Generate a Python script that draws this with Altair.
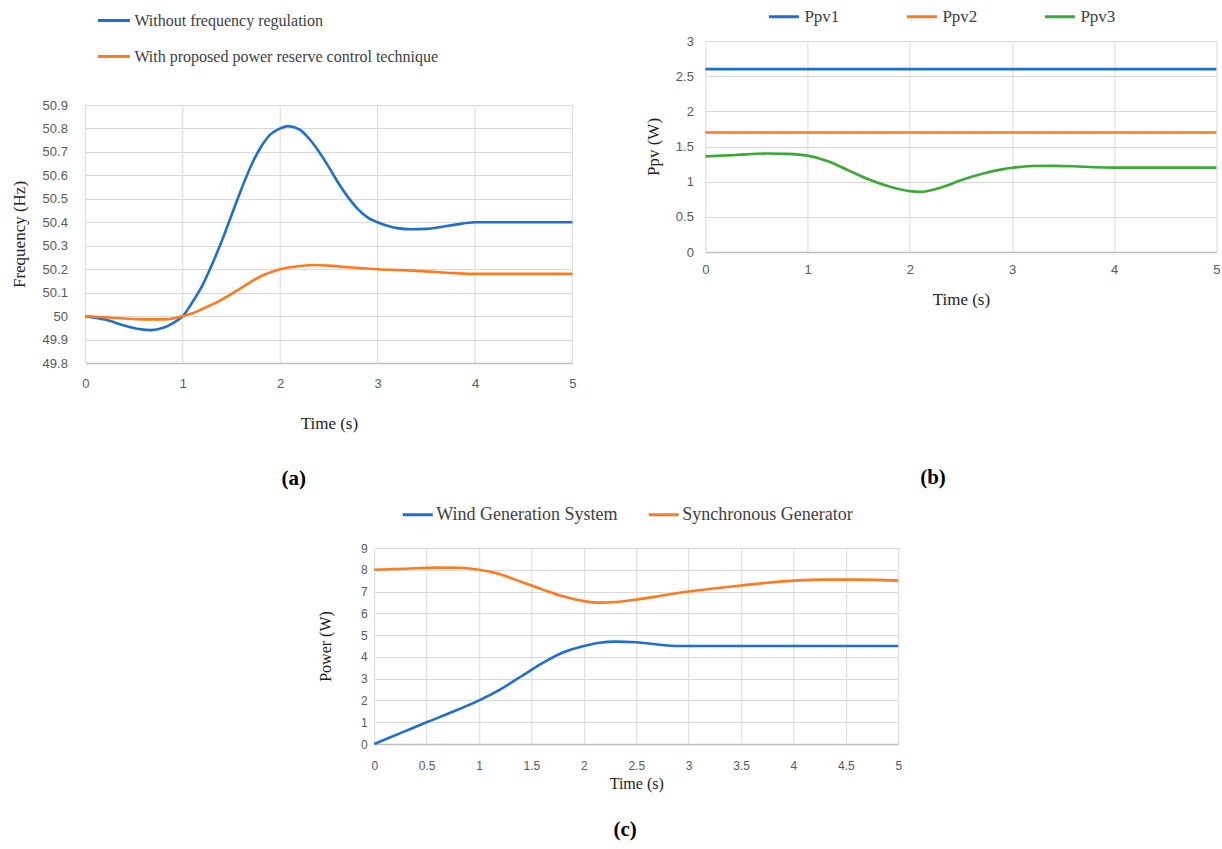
import altair as alt
import pandas as pd

# ---------------- Panel (a): frequency ----------------
a_series = ["Without frequency regulation", "With proposed power reserve control technique"]
a_colors = ["#1E6FCF", "#FF7A1F"]
a_t_without = [0, 0.2, 0.4, 0.55, 0.67, 0.8, 0.9, 1.0, 1.1, 1.2, 1.3, 1.4, 1.5, 1.6, 1.7,
               1.8, 1.9, 2.0, 2.08, 2.2, 2.3, 2.4, 2.5, 2.6, 2.7, 2.8, 2.9, 3.0, 3.1, 3.2,
               3.35, 3.5, 3.65, 3.8, 4.0, 4.5, 5.0]
a_f_without = [50.0, 49.985, 49.96, 49.945, 49.94, 49.95, 49.97, 50.0, 50.06, 50.13, 50.22,
               50.32, 50.43, 50.54, 50.64, 50.72, 50.775, 50.80, 50.81, 50.795, 50.755, 50.70,
               50.635, 50.565, 50.505, 50.455, 50.42, 50.40, 50.385, 50.375, 50.37, 50.372, 50.38,
               50.39, 50.40, 50.40, 50.40]
a_t_with = [0, 0.2, 0.4, 0.6, 0.8, 0.9, 1.0, 1.1, 1.2, 1.4, 1.6, 1.8, 2.0, 2.2, 2.35, 2.5,
            2.7, 3.0, 3.3, 3.6, 3.8, 4.0, 4.5, 5.0]
a_f_with = [50.0, 49.995, 49.99, 49.986, 49.986, 49.99, 50.0, 50.012, 50.03, 50.07, 50.12,
            50.17, 50.20, 50.213, 50.218, 50.215, 50.208, 50.20, 50.195, 50.188, 50.183,
            50.18, 50.18, 50.18]
a_xticks = [0, 1, 2, 3, 4, 5]
a_yticks = [49.8, 49.9, 50.0, 50.1, 50.2, 50.3, 50.4, 50.5, 50.6, 50.7, 50.8, 50.9]

# ---------------- Panel (b): PV power ----------------
b_series = ["Ppv1", "Ppv2", "Ppv3"]
b_colors = ["#1E6FCF", "#FF7A1F", "#3AAA35"]
b_t_flat = [0, 5]
b_ppv1 = [2.6, 2.6]
b_ppv2 = [1.7, 1.7]
b_t3 = [0, 0.3, 0.6, 0.8, 1.0, 1.2, 1.4, 1.6, 1.8, 2.0, 2.1, 2.3, 2.5, 2.7, 2.9, 3.0, 3.2,
        3.4, 3.6, 3.8, 4.0, 4.5, 5.0]
b_ppv3 = [1.36, 1.38, 1.40, 1.395, 1.37, 1.29, 1.16, 1.03, 0.93, 0.865, 0.855, 0.915, 1.02,
          1.11, 1.175, 1.197, 1.222, 1.225, 1.22, 1.205, 1.20, 1.20, 1.20]
b_xticks = [0, 1, 2, 3, 4, 5]
b_yticks = [0, 0.5, 1, 1.5, 2, 2.5, 3]

# ---------------- Panel (c): power sharing ----------------
c_series = ["Wind Generation System", "Synchronous Generator"]
c_colors = ["#1E6FCF", "#FF7A1F"]
c_t_wind = [0, 0.25, 0.5, 0.75, 1.0, 1.2, 1.4, 1.6, 1.8, 2.0, 2.15, 2.3, 2.5, 2.7, 2.9, 3.0,
            4.0, 5.0]
c_p_wind = [0, 0.5, 1.0, 1.48, 2.0, 2.5, 3.1, 3.7, 4.2, 4.5, 4.65, 4.7, 4.67, 4.57, 4.5, 4.5,
            4.5, 4.5]
c_t_sync = [0, 0.3, 0.6, 0.8, 1.0, 1.2, 1.4, 1.6, 1.8, 2.0, 2.15, 2.3, 2.5, 2.75, 3.0, 3.5,
            4.0, 4.3, 4.6, 5.0]
c_p_sync = [8.0, 8.05, 8.1, 8.09, 8.0, 7.8, 7.45, 7.1, 6.78, 6.56, 6.49, 6.52, 6.63, 6.82,
            7.0, 7.28, 7.5, 7.55, 7.55, 7.5]
c_xticks = [0, 0.5, 1, 1.5, 2, 2.5, 3, 3.5, 4, 4.5, 5]
c_yticks = [0, 1, 2, 3, 4, 5, 6, 7, 8, 9]

SERIF = "Liberation Serif"
SANS = "Liberation Sans"
GRID = "#D9D9D9"


def frame(pairs):
    rows = []
    for name, ts, vs in pairs:
        for t, v in zip(ts, vs):
            rows.append({"series": name, "t": t, "v": v})
    return pd.DataFrame(rows)


def panel(df, series, colors, xticks, yticks, ytitle, legend, o, yrange=None, title_y=None,
          xgrid=True):
    x = alt.X("t:Q", scale=alt.Scale(domain=[xticks[0], xticks[-1]], nice=False),
              axis=alt.Axis(values=xticks, format="~g", title="Time (s)",
                            labelFont=SANS, labelFontSize=o["lfs"], labelColor="#595959",
                            labelPadding=o["xlp"], titleFont=SERIF,
                            titleFontSize=o["tfs"], titleFontWeight="normal",
                            titleColor="#222222", titlePadding=o["xtp"],
                            ticks=False, domainColor="#BFBFBF", domainWidth=1.5,
                            grid=xgrid, gridColor=GRID, labelFlush=False))
    yscale = dict(domain=[yticks[0], yticks[-1]], nice=False, zero=False)
    if yrange is not None:
        yscale["range"] = yrange
    yaxis = dict(values=yticks, format="~g", title=ytitle,
                 labelFont=SANS, labelFontSize=o["lfs"], labelColor="#595959",
                 labelPadding=o["ylp"], titleFont=SERIF,
                 titleFontSize=o["tfs"], titleFontWeight="normal",
                 titleColor="#222222", titlePadding=o["ytp"],
                 ticks=False, domain=False, grid=True, gridColor=GRID, labelOverlap=False)
    if title_y is not None:
        yaxis["titleY"] = title_y
    y = alt.Y("v:Q", scale=alt.Scale(**yscale), axis=alt.Axis(**yaxis))
    color = alt.Color("series:N", scale=alt.Scale(domain=series, range=colors), legend=legend)
    return alt.Chart(df).mark_line(interpolate="monotone", strokeWidth=2.6).encode(
        x=x, y=y, color=color, detail="series:N"
    )


def titled(ch, w, h, label):
    return ch.properties(
        width=w, height=h,
        title=alt.TitleParams(text=label[0], orient="bottom", offset=label[1], fontSize=21,
                              font=SERIF, fontWeight="bold", color="#000000", anchor="middle",
                              frame="bounds"),
    )


df_a = frame([(a_series[0], a_t_without, a_f_without), (a_series[1], a_t_with, a_f_with)])
df_b = frame([(b_series[0], b_t_flat, b_ppv1), (b_series[1], b_t_flat, b_ppv2),
              (b_series[2], b_t3, b_ppv3)])
df_c = frame([(c_series[0], c_t_wind, c_p_wind), (c_series[1], c_t_sync, c_p_sync)])
df_a_grid = pd.DataFrame({"t": a_xticks})

leg_a = alt.Legend(title=None, orient="none", legendX=11, legendY=-38, direction="vertical",
                   symbolType="stroke", symbolSize=1024, symbolStrokeWidth=3,
                   labelFont=SERIF, labelFontSize=16, labelColor="#404040", labelOffset=3,
                   rowPadding=10, padding=0, labelLimit=500)
leg_b = alt.Legend(title=None, orient="none", legendX=62, legendY=-41, direction="horizontal",
                   columns=3, symbolType="stroke", symbolSize=900, symbolStrokeWidth=3,
                   labelFont=SERIF, labelFontSize=17, labelColor="#404040", labelOffset=4,
                   columnPadding=61, padding=0)
leg_c = alt.Legend(title=None, orient="none", legendX=27, legendY=-50, direction="horizontal",
                   columns=2, symbolType="stroke", symbolSize=900, symbolStrokeWidth=3,
                   labelFont=SERIF, labelFontSize=18, labelColor="#404040", labelOffset=2,
                   columnPadding=24, padding=0, labelLimit=500)

# panel (a): taller view so its plot sits lower than panel (b)'s; vertical grid drawn as rules
A_H = 322
a_lines = panel(df_a, a_series, a_colors, a_xticks, a_yticks, "Frequency (Hz)", leg_a,
                {"lfs": 13, "tfs": 17, "xlp": 14, "ylp": 18, "xtp": 25, "ytp": 14},
                yrange=[A_H, 64], title_y=193, xgrid=False)
a_vgrid = alt.Chart(df_a_grid).mark_rule(color=GRID, strokeWidth=1).encode(
    x=alt.X("t:Q", axis=None),
    y=alt.Y(datum=a_yticks[0], axis=None),
    y2=alt.Y2(datum=a_yticks[-1]))
pa = titled(alt.layer(a_vgrid, a_lines).resolve_axis(x="independent", y="independent"),
            487, A_H, ("(a)", 37))

pb = titled(panel(df_b, b_series, b_colors, b_xticks, b_yticks, "Ppv (W)", leg_b,
                  {"lfs": 13, "tfs": 17, "xlp": 11, "ylp": 12, "xtp": 15, "ytp": 13}),
            511, 211, ("(b)", 160))

c_lines = panel(df_c, c_series, c_colors, c_xticks, c_yticks, "Power (W)", leg_c,
                {"lfs": 12, "tfs": 16, "xlp": 16, "ylp": 7, "xtp": 4, "ytp": 27})
# blank right-hand spacer axis (white ticks) to balance the centred bottom panel
c_spacer = alt.Chart(df_c).mark_line(opacity=0).encode(
    x="t:Q",
    y=alt.Y("v:Q", axis=alt.Axis(orient="right", labels=False, title=None, grid=False,
                                 domain=False, ticks=True, tickSize=34, tickColor="white")))
pc = titled(alt.layer(c_lines, c_spacer).resolve_axis(y="independent"), 524, 196, ("(c)", 28))

top = alt.hconcat(pa, pb, spacing=65).resolve_scale(color="independent").resolve_legend(
    color="independent")
chart = alt.vconcat(top, pc, spacing=9, center=True).resolve_scale(
    color="independent").resolve_legend(color="independent").properties(
    padding={"left": 10, "top": 0, "right": 0, "bottom": 5}
).configure_view(strokeWidth=0)

chart.save("out.html", embed_options={"renderer": "svg", "actions": False})
